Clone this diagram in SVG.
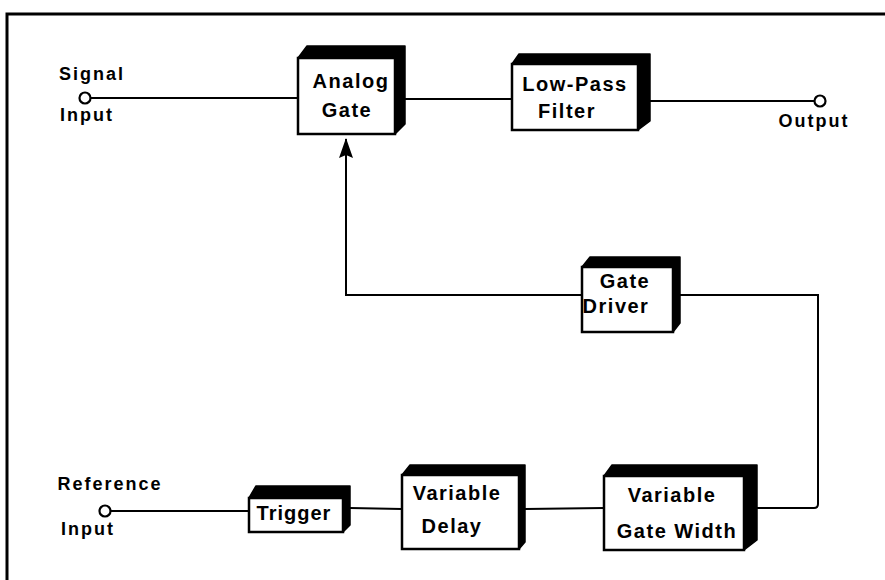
<svg xmlns="http://www.w3.org/2000/svg" width="885" height="580" viewBox="0 0 885 580">
<style>
.face{fill:#000;stroke:#000;stroke-width:1.5;stroke-linejoin:round}
.front{fill:#fff;stroke:#000;stroke-width:2.5}
.t{font-family:"Liberation Sans",Arial,sans-serif;font-weight:bold;font-size:20px;letter-spacing:1.5px;fill:#000;text-anchor:middle}
.l{font-family:"Liberation Sans",Arial,sans-serif;font-weight:bold;font-size:18px;letter-spacing:2px;fill:#000;text-anchor:middle}
.w{fill:none;stroke:#000;stroke-width:2}
.port{fill:#fff;stroke:#000;stroke-width:2.2}
</style>
<rect width="885" height="580" fill="#fff"/>
<path d="M7,580 V14 H885" fill="none" stroke="#000" stroke-width="3"/>

<g id="connectors">
<line class="w" x1="90" y1="98" x2="298" y2="98"/>
<line class="w" x1="395" y1="99" x2="512" y2="99"/>
<line class="w" x1="650" y1="101" x2="815" y2="101"/>
<path class="w" d="M582,295 H346 V139"/>
<path d="M346,138 L353,158 L346,155 L339,158 Z" fill="#000"/>
<path class="w" d="M680,295 H818 V504 Q818,508 814,508 H757"/>
<line class="w" x1="111" y1="511" x2="249" y2="511"/>
<line class="w" x1="350" y1="508" x2="402" y2="509"/>
<line class="w" x1="525" y1="509" x2="604" y2="508"/>
</g>

<g id="signal-input">
<circle class="port" cx="85" cy="98" r="5.5"/>
<text class="l" x="92" y="80">Signal</text>
<text class="l" x="87" y="121">Input</text>
</g>

<g id="output">
<circle class="port" cx="820" cy="101" r="5.5"/>
<text class="l" x="814" y="127">Output</text>
</g>

<g id="reference-input">
<circle class="port" cx="105" cy="511" r="5.5"/>
<text class="l" x="110" y="490">Reference</text>
<text class="l" x="88" y="535">Input</text>
</g>

<g id="analog-gate">
<polygon class="face" points="298,58 307,46 405,46 405,124 395,134 395,58"/>
<rect class="front" x="298" y="58" width="97" height="76"/>
<text class="t" x="351" y="88">Analog</text>
<text class="t" x="347" y="117">Gate</text>
</g>

<g id="low-pass-filter">
<polygon class="face" points="512,64 519,54 650,54 650,121 638,130 638,64"/>
<rect class="front" x="512" y="64" width="126" height="66"/>
<text class="t" x="575" y="91">Low-Pass</text>
<text class="t" x="567" y="118">Filter</text>
</g>

<g id="gate-driver">
<polygon class="face" points="582,267 590,257 680,257 680,323 673,332 673,267"/>
<rect class="front" x="582" y="267" width="91" height="65"/>
<text class="t" x="625" y="288">Gate</text>
<text class="t" x="616" y="313">Driver</text>
</g>

<g id="trigger">
<polygon class="face" points="249,498 256,486 350,486 350,525 343,532 343,498"/>
<rect class="front" x="249" y="498" width="94" height="34"/>
<text class="t" x="294" y="520" style="letter-spacing:1px">Trigger</text>
</g>

<g id="variable-delay">
<polygon class="face" points="402,475 410,465 525,465 525,542 519,549 519,475"/>
<rect class="front" x="402" y="475" width="117" height="74"/>
<text class="t" x="457" y="500">Variable</text>
<text class="t" x="452" y="533">Delay</text>
</g>

<g id="variable-gate-width">
<polygon class="face" points="604,476 612,465 757,465 757,540 744,550 744,476"/>
<rect class="front" x="604" y="476" width="140" height="74"/>
<text class="t" x="672" y="502">Variable</text>
<text class="t" x="677" y="538">Gate Width</text>
</g>
</svg>
